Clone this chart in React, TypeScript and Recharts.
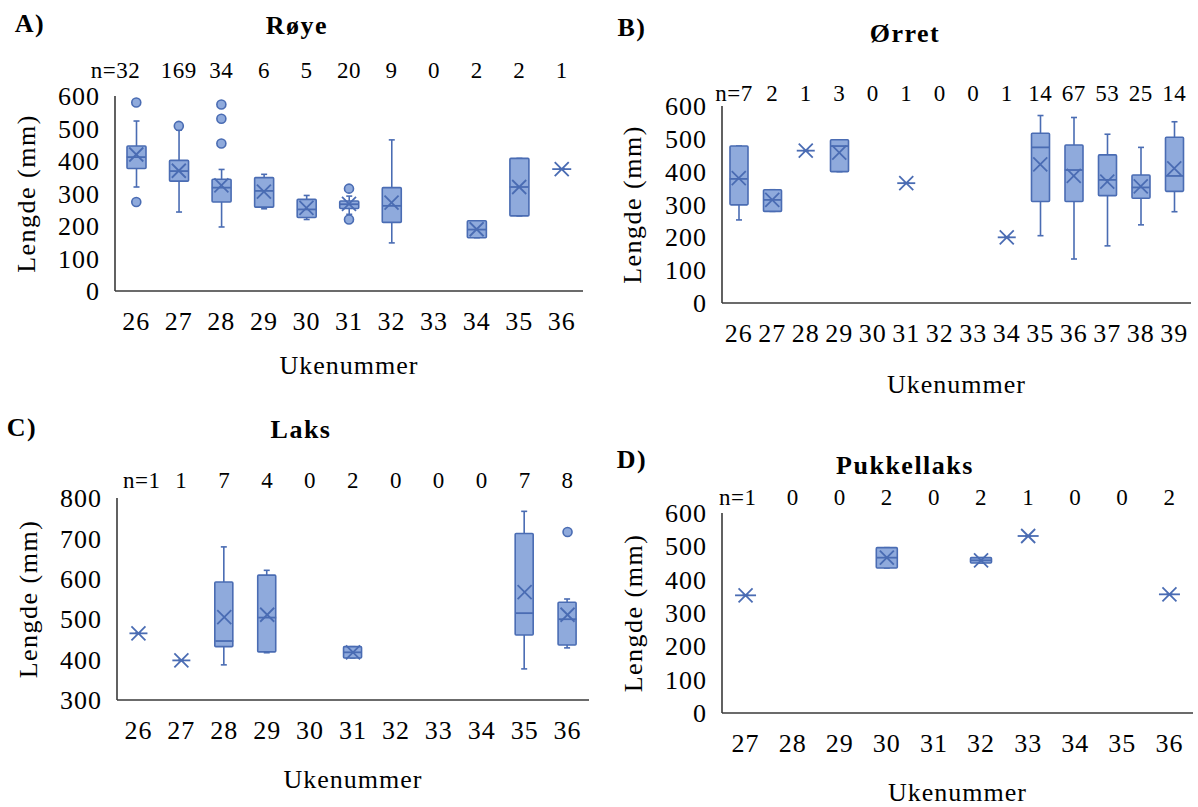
import React from 'react';
import { ComposedChart, Bar, Scatter, XAxis, YAxis } from 'recharts';

const FONT = '"Liberation Serif", "Times New Roman", serif';
const STROKE = '#4a6cb3';
const FILL = '#8faadc';
const AXIS = '#3a3a3a';

// A) Røye
const weeksA = ['26', '27', '28', '29', '30', '31', '32', '33', '34', '35', '36'];
const countA = ['n=32', '169', '34', '6', '5', '20', '9', '0', '2', '2', '1'];
const lowA = [320, 243, 197, 253, 220, 236, 148, null, 164, 231, 375];
const q1A = [377, 338, 274, 258, 226, 254, 211, null, 164, 231, 375];
const medA = [412, 369, 318, 308, 251, 267, 262, null, 189, 320, 375];
const q3A = [446, 402, 344, 349, 282, 277, 318, null, 216, 408, 375];
const highA = [523, 495, 374, 359, 294, 292, 465, null, 216, 408, 375];
const meanA = [420, 370, 325, 306, 256, 268, 272, null, 190, 320, 375];
const outA1 = [580, 508, 574, null, null, 315, null, null, null, null, null];
const outA2 = [274, null, 530, null, null, 220, null, null, null, null, null];
const outA3 = [null, null, 454, null, null, null, null, null, null, null, null];

// B) Ørret
const weeksB = ['26', '27', '28', '29', '30', '31', '32', '33', '34', '35', '36', '37', '38', '39'];
const countB = ['n=7', '2', '1', '3', '0', '1', '0', '0', '1', '14', '67', '53', '25', '14'];
const lowB = [253, 279, 464, 400, null, 365, null, null, 200, 205, 134, 174, 238, 278];
const q1B = [299, 279, 464, 400, null, 365, null, null, 200, 309, 309, 327, 319, 340];
const medB = [378, 314, 464, 478, null, 365, null, null, 200, 474, 405, 375, 352, 387];
const q3B = [478, 345, 464, 497, null, 365, null, null, 200, 517, 481, 451, 390, 505];
const highB = [478, 345, 464, 497, null, 365, null, null, 200, 571, 565, 514, 474, 552];
const meanB = [380, 314, 464, 458, null, 365, null, null, 200, 422, 387, 370, 355, 410];

// C) Laks
const weeksC = ['26', '27', '28', '29', '30', '31', '32', '33', '34', '35', '36'];
const countC = ['n=1', '1', '7', '4', '0', '2', '0', '0', '0', '7', '8'];
const lowC = [465, 398, 387, 417, null, 404, null, null, null, 377, 429];
const q1C = [465, 398, 432, 419, null, 404, null, null, null, 461, 436];
const medC = [465, 398, 446, 504, null, 418, null, null, null, 515, 500];
const q3C = [465, 398, 592, 609, null, 432, null, null, null, 712, 542];
const highC = [465, 398, 679, 621, null, 432, null, null, null, 767, 550];
const meanC = [465, 398, 505, 511, null, 418, null, null, null, 567, 511];
const outC1 = [null, null, null, null, null, null, null, null, null, null, 716];

// D) Pukkellaks
const weeksD = ['27', '28', '29', '30', '31', '32', '33', '34', '35', '36'];
const countD = ['n=1', '0', '0', '2', '0', '2', '1', '0', '0', '2'];
const lowD = [353, null, null, 435, null, 450, 531, null, null, 356];
const q1D = [353, null, null, 435, null, 450, 531, null, null, 356];
const medD = [353, null, null, 466, null, 458, 531, null, null, 356];
const q3D = [353, null, null, 496, null, 466, 531, null, null, 356];
const highD = [353, null, null, 496, null, 466, 531, null, null, 356];
const meanD = [353, null, null, 466, null, 458, 531, null, null, 356];

const ticks600 = [0, 100, 200, 300, 400, 500, 600];
const ticks800 = [300, 400, 500, 600, 700, 800];

type Val = number | null;

function buildRows(weeks: string[], low: Val[], q1: Val[], med: Val[], q3: Val[], high: Val[], mean: Val[], outs: Val[][]) {
  return weeks.map((week, i) => ({
    week,
    whisker: low[i] == null ? null : [low[i], high[i]],
    box: q1[i] == null ? null : [q1[i], q3[i]],
    median: med[i],
    mean: mean[i],
    o1: outs[0] ? outs[0][i] : null,
    o2: outs[1] ? outs[1][i] : null,
    o3: outs[2] ? outs[2][i] : null,
  }));
}

const rowsA = buildRows(weeksA, lowA, q1A, medA, q3A, highA, meanA, [outA1, outA2, outA3]);
const rowsB = buildRows(weeksB, lowB, q1B, medB, q3B, highB, meanB, []);
const rowsC = buildRows(weeksC, lowC, q1C, medC, q3C, highC, meanC, [outC1]);
const rowsD = buildRows(weeksD, lowD, q1D, medD, q3D, highD, meanD, []);

const WhiskerShape = (props: any) => {
  const { x, y, width, height, payload } = props;
  if (!payload || !payload.whisker) return <g />;
  const cx = x + width / 2;
  const top = Math.min(y, y + height);
  const bot = Math.max(y, y + height);
  return (
    <g stroke={STROKE} strokeWidth={1.6}>
      <line x1={cx} x2={cx} y1={top} y2={bot} />
      <line x1={cx - 3} x2={cx + 3} y1={top} y2={top} />
      <line x1={cx - 3} x2={cx + 3} y1={bot} y2={bot} />
    </g>
  );
};

const BoxShape = (props: any) => {
  const { x, y, width, height, payload } = props;
  if (!payload || !payload.box) return <g />;
  const top = Math.min(y, y + height);
  const h = Math.abs(height);
  return <rect x={x} y={top} width={width} height={h} fill={FILL} stroke={STROKE} strokeWidth={1.6} rx={1} />;
};

const makeMedian = (bw: number) => (props: any) => {
  const { cx, cy, payload } = props;
  if (!payload || payload.median == null) return <g />;
  return <line x1={cx - bw / 2} x2={cx + bw / 2} y1={cy} y2={cy} stroke={STROKE} strokeWidth={1.8} />;
};

const MeanShape = (props: any) => {
  const { cx, cy, payload } = props;
  if (!payload || payload.mean == null) return <g />;
  return (
    <g stroke={STROKE} strokeWidth={1.8}>
      <line x1={cx - 7} x2={cx + 7} y1={cy - 7} y2={cy + 7} />
      <line x1={cx - 7} x2={cx + 7} y1={cy + 7} y2={cy - 7} />
    </g>
  );
};

const makeOutlier = (key: string) => (props: any) => {
  const { cx, cy, payload } = props;
  if (!payload || payload[key] == null) return <g />;
  return <circle cx={cx} cy={cy} r={4.5} fill={FILL} stroke={STROKE} strokeWidth={1.6} />;
};

const BottomTick = (props: any) => (
  <text x={props.x} y={props.y} dy="0.71em" textAnchor="middle" fontFamily={FONT} fontSize={26} letterSpacing={1} fill="#000">
    {props.payload.value}
  </text>
);

const LeftTick = (props: any) => (
  <text x={props.x} y={props.y} dy="0.35em" textAnchor="end" fontFamily={FONT} fontSize={26} letterSpacing={1} fill="#000">
    {props.payload.value}
  </text>
);

const makeTopTick = (labels: string[], firstDx: number) => (props: any) => {
  const i = props.index;
  const first = i === 0;
  return (
    <text x={props.x + (first ? firstDx : 0)} y={props.y} textAnchor={first ? 'end' : 'middle'} fontFamily={FONT} fontSize={23} letterSpacing={0.5} fill="#000">
      {labels[i]}
    </text>
  );
};

const makeYLabel = (lx: number) => (props: any) => {
  const vb = props.viewBox;
  const cy = vb.y + vb.height / 2;
  return (
    <text x={lx} y={cy} transform={`rotate(-90, ${lx}, ${cy})`} textAnchor="middle" dominantBaseline="central" fontFamily={FONT} fontSize={26} letterSpacing={1.5} fill="#000">
      Lengde (mm)
    </text>
  );
};

const makeXLabel = (dy: number) => (props: any) => {
  const vb = props.viewBox;
  return (
    <text x={vb.x + vb.width / 2} y={vb.y + dy} textAnchor="middle" dominantBaseline="central" fontFamily={FONT} fontSize={26} letterSpacing={1} fill="#000">
      Ukenummer
    </text>
  );
};

interface PanelProps {
  rows: any[];
  counts: string[];
  domain: [number, number];
  ticks: number[];
  left: number;
  top: number;
  width: number;
  height: number;
  marginTop: number;
  marginRight: number;
  yAxisWidth: number;
  xAxisHeight: number;
  nTickMargin: number;
  firstDx: number;
  yLabelX: number;
  xLabelDy: number;
  boxWidth: number;
}

function Panel(p: PanelProps) {
  return (
    <div style={{ position: 'absolute', left: p.left, top: p.top }}>
      <ComposedChart width={p.width} height={p.height} data={p.rows} margin={{ top: p.marginTop, right: p.marginRight, bottom: 0, left: 0 }}>
        <XAxis
          xAxisId="n"
          dataKey="week"
          orientation="top"
          height={40}
          axisLine={false}
          tickLine={false}
          tickSize={0}
          tickMargin={p.nTickMargin}
          interval={0}
          tick={makeTopTick(p.counts, p.firstDx)}
        />
        <XAxis
          xAxisId="x"
          dataKey="week"
          height={p.xAxisHeight}
          axisLine={{ stroke: AXIS, strokeWidth: 1.6 }}
          tickLine={false}
          tickSize={0}
          tickMargin={21}
          interval={0}
          tick={BottomTick}
          label={makeXLabel(p.xLabelDy)}
        />
        <YAxis
          type="number"
          domain={p.domain}
          ticks={p.ticks}
          width={p.yAxisWidth}
          axisLine={{ stroke: AXIS, strokeWidth: 1.6 }}
          tickLine={false}
          tickSize={0}
          tickMargin={15}
          interval={0}
          tick={LeftTick}
          label={makeYLabel(p.yLabelX)}
        />
        <Bar xAxisId="n" dataKey="whisker" barSize={p.boxWidth} shape={WhiskerShape} isAnimationActive={false} />
        <Bar xAxisId="x" dataKey="box" barSize={p.boxWidth} shape={BoxShape} isAnimationActive={false} />
        <Scatter xAxisId="x" dataKey="median" shape={makeMedian(p.boxWidth)} isAnimationActive={false} />
        <Scatter xAxisId="x" dataKey="mean" shape={MeanShape} isAnimationActive={false} />
        <Scatter xAxisId="x" dataKey="o1" shape={makeOutlier('o1')} isAnimationActive={false} />
        <Scatter xAxisId="x" dataKey="o2" shape={makeOutlier('o2')} isAnimationActive={false} />
        <Scatter xAxisId="x" dataKey="o3" shape={makeOutlier('o3')} isAnimationActive={false} />
      </ComposedChart>
    </div>
  );
}

const headStyle: React.CSSProperties = {
  position: 'absolute',
  transform: 'translate(-50%, -50%)',
  fontFamily: FONT,
  fontWeight: 'bold',
  fontSize: 26,
  letterSpacing: 1.5,
  whiteSpace: 'nowrap',
  lineHeight: 1,
  color: '#000',
};

export default function App() {
  return (
    <div style={{ position: 'absolute', left: 0, top: 0, width: 1198, height: 807, background: '#fff', overflow: 'hidden' }}>
      <Panel rows={rowsA} counts={countA} domain={[0, 600]} ticks={ticks600} left={0} top={0} width={600} height={400}
        marginTop={56} marginRight={17} yAxisWidth={115} xAxisHeight={109} nTickMargin={18} firstDx={4} yLabelX={26} xLabelDy={74} boxWidth={19} />
      <Panel rows={rowsB} counts={countB} domain={[0, 600]} ticks={ticks600} left={600} top={0} width={598} height={400}
        marginTop={66} marginRight={7} yAxisWidth={122} xAxisHeight={97} nTickMargin={5} firstDx={14} yLabelX={32} xLabelDy={81} boxWidth={18} />
      <Panel rows={rowsC} counts={countC} domain={[300, 800]} ticks={ticks800} left={0} top={400} width={600} height={407}
        marginTop={58} marginRight={11} yAxisWidth={117} xAxisHeight={107} nTickMargin={10} firstDx={22} yLabelX={28} xLabelDy={79} boxWidth={18} />
      <Panel rows={rowsD} counts={countD} domain={[0, 600]} ticks={ticks600} left={600} top={400} width={598} height={407}
        marginTop={73} marginRight={5} yAxisWidth={122} xAxisHeight={94} nTickMargin={8} firstDx={11} yLabelX={33} xLabelDy={79} boxWidth={21} />

      <div style={{ ...headStyle, left: 30, top: 24 }}>A)</div>
      <div style={{ ...headStyle, left: 297, top: 26 }}>Røye</div>
      <div style={{ ...headStyle, left: 632, top: 28 }}>B)</div>
      <div style={{ ...headStyle, left: 905, top: 34 }}>Ørret</div>
      <div style={{ ...headStyle, left: 22, top: 428 }}>C)</div>
      <div style={{ ...headStyle, left: 301, top: 430 }}>Laks</div>
      <div style={{ ...headStyle, left: 632, top: 460 }}>D)</div>
      <div style={{ ...headStyle, left: 905, top: 466 }}>Pukkellaks</div>
    </div>
  );
}
